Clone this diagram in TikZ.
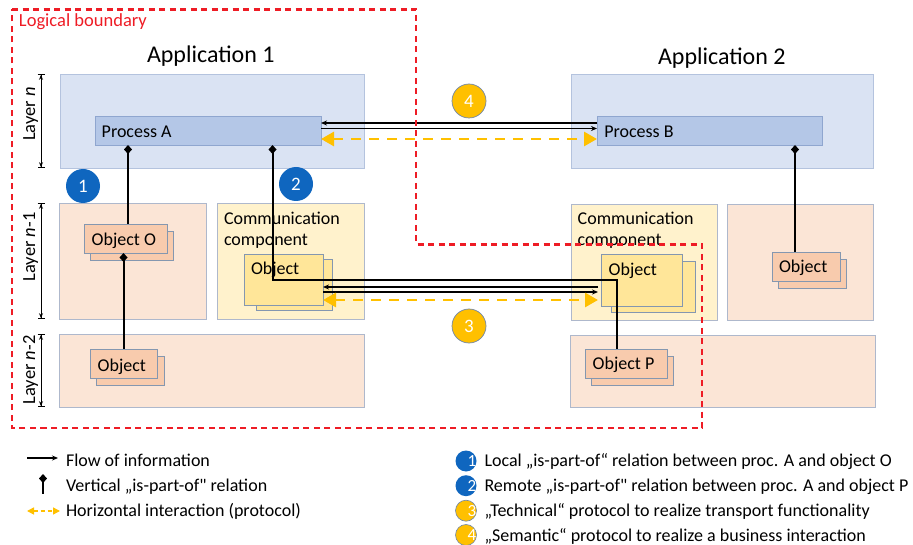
\documentclass[tikz,border=0pt]{standalone}
\usepackage{fontspec}
\setmainfont{Carlito}[Ligatures=TeXOff]
\usetikzlibrary{arrows.meta,calc}

\definecolor{layerFill}{HTML}{DAE3F3}
\definecolor{layerDraw}{HTML}{B4C3DE}
\definecolor{procFill}{HTML}{B4C7E7}
\definecolor{procDraw}{HTML}{8FA6CF}
\definecolor{peachFill}{HTML}{FBE5D6}
\definecolor{commFill}{HTML}{FFF2CC}
\definecolor{boxDraw}{HTML}{AEB8CC}
\definecolor{objFill}{HTML}{F8CBAD}
\definecolor{cobjFill}{HTML}{FFE699}
\definecolor{objDraw}{HTML}{8497B0}
\definecolor{boundRed}{HTML}{EE1C25}
\definecolor{protoYellow}{HTML}{FFC000}
\definecolor{badgeBlue}{HTML}{0F66BF}
\definecolor{badgeRim}{HTML}{6F86A8}

% rectangle node from its two corners: style, name, x1, y1, x2, y2
\newcommand\cornerbox[6]{%
  \node[#1, minimum width={(#5)-(#3)}, minimum height={(#6)-(#4)}]
    (#2) at ({((#3)+(#5))/2},{((#4)+(#6))/2}) {};}

\begin{document}
\begin{tikzpicture}[x=1pt, y=-1pt,
  every node/.style={inner sep=0pt, outer sep=0pt},
  layerbox/.style={draw=layerDraw, fill=layerFill, line width=0.8pt},
  procbox/.style={draw=procDraw, fill=procFill, line width=0.8pt},
  peachbox/.style={draw=boxDraw, fill=peachFill, line width=0.8pt},
  commbox/.style={draw=boxDraw, fill=commFill, line width=0.8pt},
  objbox/.style={draw=objDraw, fill=objFill, line width=0.8pt},
  cobjbox/.style={draw=objDraw, fill=cobjFill, line width=0.8pt},
  lbl/.style={anchor=base west, font=\fontsize{18}{21}\selectfont},
  title/.style={anchor=base west, font=\fontsize{24}{28}\selectfont},
  layerlbl/.style={anchor=base, rotate=90, font=\fontsize{18.5}{21}\selectfont},
  dim/.style={line width=0.8pt,
    {Bar[width=7pt]Stealth[length=5pt,width=4pt]}-{Stealth[length=5pt,width=4pt]Bar[width=7pt]}},
  flow/.style={line width=1.6pt, -{Stealth[length=6pt,width=5pt]}},
  partof/.style={line width=2pt, {Diamond[length=9pt,width=8pt]}-},
  proto/.style={draw=protoYellow, line width=2.8pt, dash pattern=on 10pt off 8pt,
    {Triangle[length=13pt,width=14pt]}-{Triangle[length=13pt,width=14pt]}},
  bluebadge/.style={circle, fill=badgeBlue, minimum size=34pt, text=white,
    font=\fontsize{19}{20}\selectfont},
  yellowbadge/.style={circle, fill=protoYellow, draw=badgeRim, line width=0.7pt,
    minimum size=34pt, text=white, font=\fontsize{19}{20}\selectfont},
  keyblue/.style={circle, fill=badgeBlue, minimum size=21pt},
  keyyellow/.style={circle, fill=protoYellow, draw=badgeRim, line width=0.6pt, minimum size=21pt},
  keynum/.style={text=white, font=\fontsize{17}{18}\selectfont}]

\useasboundingbox (0,0) rectangle (913,545);

% ---- layer areas ----
\cornerbox{layerbox}{lnA}{60}{74}{364}{168}
\cornerbox{layerbox}{lnB}{571}{74}{873}{168}
\cornerbox{peachbox}{lmA}{59}{203}{206}{319}
\cornerbox{commbox}{ccA}{217}{203}{364}{319}
\cornerbox{peachbox}{llA}{59}{334}{364}{407}
\cornerbox{commbox}{ccB}{571}{204}{717}{320}
\cornerbox{peachbox}{lmB}{727}{204}{873}{320}
\cornerbox{peachbox}{llB}{570}{335}{875}{407}

% ---- processes ----
\cornerbox{procbox}{pA}{95}{116}{321}{145}
\cornerbox{procbox}{pB}{597}{116}{822}{145}

% ---- objects (shadow copy behind each) ----
\cornerbox{objbox}{objOs}{90}{231}{173}{260}
\cornerbox{objbox}{objO}{84}{224}{167}{253}
\cornerbox{objbox}{objLs}{96}{356}{164}{385}
\cornerbox{objbox}{objL}{90}{349}{157}{378}
\cornerbox{cobjbox}{cAs}{256}{259}{332}{310}
\cornerbox{cobjbox}{cA}{244}{254}{323}{305}
\cornerbox{cobjbox}{cBs}{611}{261}{695}{312}
\cornerbox{cobjbox}{cB}{601}{254}{682}{306}
\cornerbox{objbox}{objPs}{591}{356}{673}{385}
\cornerbox{objbox}{objP}{585}{349}{667}{378}
\cornerbox{objbox}{objRs}{778}{259}{846}{288}
\cornerbox{objbox}{objR}{772}{252}{840}{281}

% ---- texts ----
\node[title] (t1) at (147,62.3) {Application 1};
\node[title] (t2) at (658,65) {Application 2};
\node[lbl] (tpA) at (101.7,137.3) {Process A};
\node[lbl] (tpB) at (604.3,137.7) {Process B};
\node[lbl] (tccA1) at (224,225) {Communication};
\node[lbl] (tccA2) at (224,245.5) {component};
\node[lbl] (tccB1) at (577.7,225) {Communication};
\node[lbl] (tccB2) at (577.7,245.5) {component};
\node[lbl] (tobjO) at (91.7,246) {Object O};
\node[lbl] (tobjL) at (97.7,371) {Object};
\node[lbl] (tcA) at (251,275) {Object};
\node[lbl] (tcB) at (608.7,276) {Object};
\node[lbl] (tobjP) at (592.7,370) {Object P};
\node[lbl] (tobjR) at (779,273) {Object};

% ---- layer markers ----
\node[layerlbl] (ly1) at (35,114) {Layer \textit{n}};
\node[layerlbl] (ly2) at (35,247) {Layer \textit{n}-1};
\node[layerlbl] (ly3) at (35,370) {Layer \textit{n}-2};
\coordinate (dimx) at (41,0);
\draw[dim] (lnA.north -| dimx) -- (lnA.south -| dimx);
\draw[dim] (lmA.north -| dimx) -- (lmA.south -| dimx);
\draw[dim] (llA.north -| dimx) -- (llA.south -| dimx);

% ---- vertical is-part-of relations ----
\coordinate (vx1) at (128,0);
\coordinate (vx2) at (123.5,0);
\coordinate (vx3) at (272.5,0);
\coordinate (vx4) at (795,0);
\coordinate (bend) at (617,280.5);
\draw[partof] (pA.south -| vx1) -- (objO.north -| vx1);
\draw[partof] (objO.south -| vx2) -- (objL.north -| vx2);
\draw[partof] (pA.south -| vx3) |- (bend) -- (bend |- objP.north);
\draw[partof] (pB.south -| vx4) -- (objR.north -| vx4);

% ---- flows and protocols between the applications ----
\draw[flow] ([yshift=7.5pt]pB.west) -- ([yshift=7.5pt]pB.west -| pA.east);
\draw[flow] ([yshift=2pt]pA.east) -- ([yshift=2pt]pA.east -| pB.west);
\draw[proto] ([yshift=-8.5pt]pA.east) -- ([yshift=-8.5pt]pA.east -| pB.west);

\coordinate (rx) at (598,0);
\draw[flow] ([yshift=-7.5pt]cA.east -| rx) -- ([yshift=-7.5pt]cA.east);
\draw[flow] ([yshift=-12.5pt]cA.east) -- ([yshift=-12.5pt]cA.east -| rx);
\draw[proto] ([yshift=-20.5pt]cA.east) -- ([yshift=-20.5pt]cA.east -| rx);

% ---- logical boundary ----
\coordinate (b1) at (12,9.5);
\coordinate (b2) at (416,244.5);
\coordinate (b3) at (702,428);
\draw[boundRed, line width=2.4pt, dash pattern=on 6pt off 4.5pt]
  (b1) -| (b2) -| (b3) -| cycle;
\node[anchor=base west, text=boundRed, font=\fontsize{18.5}{20}\selectfont] (tlb) at (19,26.5) {Logical boundary};

% ---- numbered badges ----
\node[bluebadge] (n1) at (83,186) {1};
\node[bluebadge] (n2) at (296,184) {2};
\node[yellowbadge] (n4) at (469,101) {4};
\node[yellowbadge] (n3) at (469,326) {3};

% ---- legend, left ----
\coordinate (k1a) at (27,458);
\coordinate (k1b) at (58,458);
\draw[flow] (k1a) -- (k1b);
\node[lbl] (k1t) at (66,466.5) {Flow of information};
\coordinate (k2a) at (43,474);
\coordinate (k2b) at (43,494);
\draw[partof] (k2a) -- (k2b);
\node[lbl] (k2t) at (66,491.7) {Vertical „is-part-of" relation};
\coordinate (k3a) at (27,511);
\coordinate (k3b) at (60,511);
\draw[draw=protoYellow, line width=1.5pt, dash pattern=on 4pt off 3pt,
  {Triangle[length=7pt,width=7pt]}-{Triangle[length=7pt,width=7pt]}] (k3a) -- (k3b);
\node[lbl] (k3t) at (66,516.3) {Horizontal interaction (protocol)};

% ---- legend, right ----
\node[keyblue] (kn1) at (466,461) {};
\node[keynum] at ([xshift=6pt]kn1.center) {1};
\node[lbl] (kt1) at (484.5,466.7) {Local „is-part-of“ relation between proc. A and object O};
\node[keyblue] (kn2) at (466,485.7) {};
\node[keynum] at ([xshift=6pt]kn2.center) {2};
\node[lbl] (kt2) at (484.5,491.7) {Remote „is-part-of" relation between proc. A and object P};
\node[keyyellow] (kn3) at (466,510.7) {};
\node[keynum] at ([xshift=6pt]kn3.center) {3};
\node[lbl] (kt3) at (484.5,516.7) {„Technical“ protocol to realize transport functionality};
\node[keyyellow] (kn4) at (466,535) {};
\node[keynum] at ([xshift=6pt]kn4.center) {4};
\node[lbl] (kt4) at (484.5,541) {„Semantic“ protocol to realize a business interaction};
\end{tikzpicture}
\end{document}
